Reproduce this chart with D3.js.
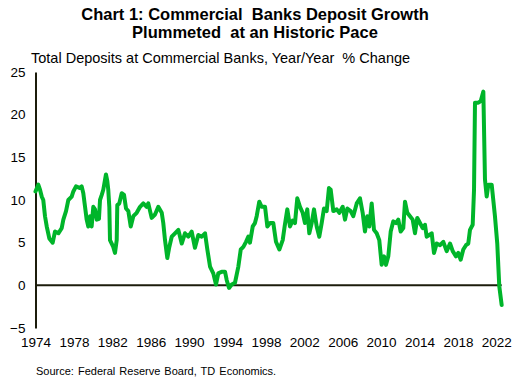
<!DOCTYPE html>
<html><head><meta charset="utf-8">
<script src="https://cdn.jsdelivr.net/npm/d3@7"></script>
<style>
html,body{margin:0;padding:0;background:#fff;}
text{font-family:"Liberation Sans",Arial,sans-serif;fill:#000;white-space:pre;}
</style></head>
<body><svg id="c" width="515" height="384"></svg>
<script>
const titleLines = ["Chart 1: Commercial  Banks Deposit Growth", "Plummeted  at an Historic Pace"];
const subtitle = "Total Deposits at Commercial Banks, Year/Year  % Change";
const source = "Source: Federal Reserve Board, TD Economics.";
const xTicks = [1974,1978,1982,1986,1990,1994,1998,2002,2006,2010,2014,2018,2022];
const yTicks = [-5,0,5,10,15,20,25];
const dates = [1974.0,1974.29,1974.47,1974.65,1974.81,1974.99,1975.17,1975.44,1975.79,1976.03,1976.38,1976.73,1976.90,1977.18,1977.42,1977.77,1977.94,1978.22,1978.64,1978.81,1978.98,1979.16,1979.33,1979.50,1979.68,1979.85,1980.02,1980.20,1980.38,1980.61,1980.72,1980.90,1981.06,1981.34,1981.48,1981.58,1981.69,1981.76,1982.10,1982.28,1982.46,1982.52,1982.73,1982.98,1983.22,1983.43,1983.67,1983.92,1984.19,1984.54,1984.89,1985.23,1985.58,1985.75,1986.10,1986.45,1986.79,1987.15,1987.31,1987.49,1987.73,1987.94,1988.19,1988.53,1988.88,1989.23,1989.57,1989.92,1990.27,1990.61,1990.96,1991.31,1991.66,1991.90,1992.18,1992.52,1992.80,1993.04,1993.40,1993.74,1993.92,1994.16,1994.44,1994.78,1995.13,1995.38,1995.65,1995.93,1996.17,1996.34,1996.63,1996.86,1997.04,1997.31,1997.56,1997.91,1998.15,1998.43,1998.77,1999.05,1999.40,1999.75,1999.95,2000.23,2000.51,2000.79,2001.03,2001.27,2001.55,2001.83,2002.07,2002.31,2002.52,2002.77,2003.01,2003.29,2003.56,2003.81,2004.05,2004.33,2004.57,2004.75,2005.02,2005.38,2005.65,2006.00,2006.24,2006.48,2006.83,2007.10,2007.46,2007.80,2008.08,2008.32,2008.56,2008.77,2009.02,2009.26,2009.54,2009.81,2010.06,2010.30,2010.51,2010.75,2011.00,2011.27,2011.55,2011.79,2012.04,2012.31,2012.49,2012.73,2013.01,2013.29,2013.53,2013.77,2014.05,2014.33,2014.57,2014.75,2015.02,2015.27,2015.51,2015.79,2016.14,2016.48,2016.83,2017.18,2017.46,2017.80,2018.04,2018.29,2018.56,2018.84,2019.08,2019.26,2019.54,2019.68,2019.78,2020.13,2020.38,2020.65,2020.82,2021.00,2021.17,2021.52,2021.86,2022.10,2022.31,2022.56];
const deposits = [11.0,11.8,11.2,10.4,10.0,8.1,6.9,5.5,5.0,6.3,6.1,6.7,7.7,8.7,10.0,10.4,11.0,11.6,11.4,11.6,10.8,9.2,7.7,6.9,8.1,6.9,9.2,8.9,7.7,7.8,10.0,10.6,11.2,13.0,12.2,11.2,9.2,5.3,4.5,3.8,5.3,9.4,9.6,10.8,10.6,9.0,8.7,6.9,8.1,8.5,9.2,9.6,9.2,9.6,7.9,8.3,9.2,8.5,7.3,5.3,3.2,4.5,5.7,6.1,6.5,4.9,6.1,5.7,6.3,4.4,5.9,5.7,6.1,4.2,2.2,1.4,0.1,1.4,1.6,1.6,0.6,-0.3,0.1,0.3,2.2,4.2,4.5,5.1,5.7,5.0,6.9,7.3,8.1,9.8,9.2,9.2,6.9,7.3,7.3,5.1,4.2,5.3,6.9,8.9,6.9,7.6,7.3,10.2,9.2,8.5,7.3,8.9,6.1,7.3,8.9,6.9,5.7,7.3,9.0,8.7,11.4,11.2,8.7,8.9,8.5,9.2,7.7,9.0,8.7,8.1,9.6,10.2,8.5,6.3,8.1,6.9,9.6,6.5,6.1,5.3,2.4,3.4,2.4,3.4,6.3,7.5,7.3,7.7,6.3,6.7,9.8,8.5,8.1,7.7,6.1,7.9,7.3,6.7,7.1,5.7,5.9,6.1,3.8,4.9,4.7,5.1,4.0,4.9,4.0,3.4,3.8,3.0,4.2,4.7,4.9,6.5,7.1,11.2,21.4,21.4,21.6,22.7,12.4,10.4,11.8,11.8,8.1,4.9,-0.1,-2.3];

const svg = d3.select("#c");
const x = d3.scaleLinear().domain([1974, 2022]).range([35.5, 496.3]);
const y = d3.scaleLinear().domain([-5, 25]).range([328, 72]);

// title
svg.append("text").attr("x", 255).attr("text-anchor", "middle")
  .style("font-weight", "bold").style("font-size", "16.5px")
  .selectAll("tspan").data(titleLines).join("tspan")
  .attr("x", 255).attr("y", (d, i) => 20 + i * 18).text(d => d);
svg.append("text").attr("x", 31).attr("y", 63).style("font-size", "14.5px").text(subtitle);
svg.append("text").attr("x", 36).attr("y", 375).style("font-size", "11px").style("word-spacing", "1px").text(source);

// y axis
const ya = svg.append("g").attr("transform", `translate(${x(1974)},0)`)
  .call(d3.axisLeft(y).tickValues(yTicks).tickSize(0).tickPadding(10).tickFormat(d3.format("d")));
ya.select(".domain").attr("stroke", "#1c1c0c").attr("stroke-width", 2);
ya.selectAll("text").style("font-size", "13.5px").style("font-family", "Liberation Sans, Arial, sans-serif").attr("fill", "#000");

// x axis labels
const xa = svg.append("g").attr("transform", `translate(0,${y(-5) + 9})`)
  .call(d3.axisBottom(x).tickValues(xTicks).tickSize(0).tickPadding(0).tickFormat(d3.format("d")));
xa.select(".domain").remove();
xa.selectAll("text").style("font-size", "13.5px").style("font-family", "Liberation Sans, Arial, sans-serif").attr("fill", "#000");

// zero line
svg.append("line").attr("x1", x(1974)).attr("x2", x(dates[dates.length-1]))
  .attr("y1", y(0)).attr("y2", y(0)).attr("stroke", "#1c1c0c").attr("stroke-width", 2);

// series line
const pts = dates.map((d, i) => [d, deposits[i]]);
svg.append("path").datum(pts)
  .attr("fill", "none").attr("stroke", "#00b52a").attr("stroke-width", 4)
  .attr("stroke-linejoin", "round").attr("stroke-linecap", "round")
  .attr("d", d3.line().x(d => x(d[0])).y(d => y(d[1])));
</script></body></html>
